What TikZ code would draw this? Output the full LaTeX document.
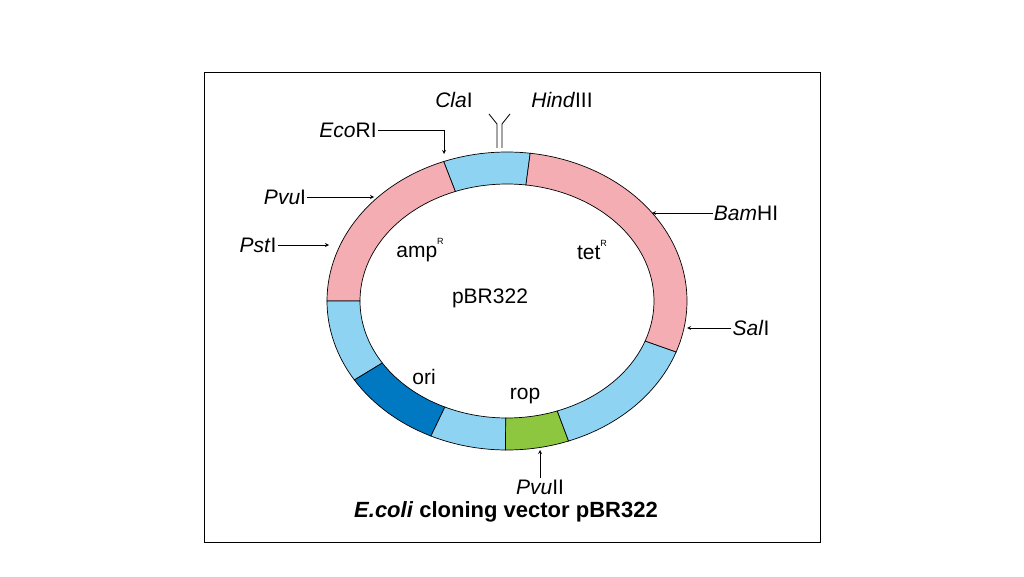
\documentclass[tikz,border=0pt]{standalone}
\usepackage{fontspec}
\setmainfont{Liberation Sans}
\begin{document}
\begin{tikzpicture}[x=1pt,y=1pt,
  lbl/.style={font=\fontsize{21}{24}\selectfont, inner sep=1pt},
  arr/.style={-stealth, line width=0.8pt}]
\useasboundingbox (0,0) rectangle (1024,576);
\definecolor{pk}{HTML}{F4AEB3}
\definecolor{lb}{HTML}{8FD3F2}
\definecolor{db}{HTML}{0078C2}
\definecolor{gr}{HTML}{8DC63F}
\draw[line width=0.8pt] (204,34) rectangle (820,504);
\coordinate (c) at (507,275);
\foreach \a/\b/\col in {82.6/110.6/lb,110.6/180/pk,180/212/lb,212/245/db,245/269.5/lb,269.5/290/gr,290/340/lb,340/442.6/pk}{
  \filldraw[fill=\col, draw=black, line width=0.7pt]
    ([shift={(\a:180 and 149)}]c) arc[start angle=\a, end angle=\b, x radius=180, y radius=149]
    -- ([shift={(\b:147 and 117)}]c) arc[start angle=\b, end angle=\a, x radius=147, y radius=117] -- cycle;
}
\node[lbl] (cla) at (454,476) {\textit{Cla}I};
\node[lbl] (hind) at (562,476) {\textit{Hind}III};
\draw[line width=0.8pt] (497,428) -- (497,452) -- (489,462);
\draw[line width=0.8pt] (502,428) -- (502,452) -- (510,462);
\node[lbl] (eco) at (348,446) {\textit{Eco}RI};
\coordinate (ecoc) at (444,446);
\draw[line width=0.8pt] (eco.east) -- (ecoc);
\draw[arr] (ecoc) -- (444,422);
\node[lbl] (pvu) at (285,379) {\textit{Pvu}I};
\coordinate (pvut) at (374,379);
\draw[arr] (pvu.east) -- (pvut);
\node[lbl] (pst) at (258,331) {\textit{Pst}I};
\coordinate (pstt) at (329,331);
\draw[arr] (pst.east) -- (pstt);
\node[lbl] (bam) at (746,363) {\textit{Bam}HI};
\coordinate (bamt) at (652,363);
\draw[arr] (bam.west) -- (bamt);
\node[lbl] (sal) at (751,248) {\textit{Sal}I};
\coordinate (salt) at (687,248);
\draw[arr] (sal.west) -- (salt);
\node[lbl] (pvu2) at (540,89) {\textit{Pvu}II};
\coordinate (pvu2t) at (540,126);
\draw[arr] (pvu2.north) -- (pvu2t);
\node[lbl] (amp) at (420,326) {amp\raisebox{1.1ex}{\fontsize{9}{9}\selectfont R}};
\node[lbl] (tet) at (592,326) {tet\raisebox{1.1ex}{\fontsize{9}{9}\selectfont R}};
\node[lbl] (pbr) at (490,278) {pBR322};
\node[lbl] (ori) at (424,199) {ori};
\node[lbl] (rop) at (525,180) {rop};
\node[lbl, font=\fontsize{22}{24}\selectfont\bfseries] (title) at (506,64) {\textit{E.coli} cloning vector pBR322};
\end{tikzpicture}
\end{document}
